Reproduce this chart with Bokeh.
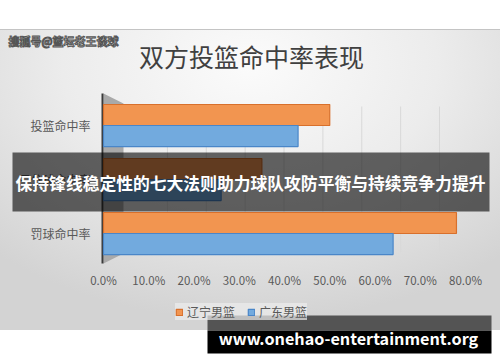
from bokeh.plotting import figure
from bokeh.models import (Range1d, Label, BoxAnnotation, PolyAnnotation, Legend, LegendItem)
from bokeh.core.properties import value
from bokeh.embed import file_html
from bokeh.resources import INLINE

# ---- data ----
categories = ["投篮命中率", "三分球命中率", "罚球命中率"]
liaoning = [0.50, 0.35, 0.78]
guangdong = [0.43, 0.26, 0.64]
series_names = ["辽宁男篮", "广东男篮"]
x_ticks = [0.0, 0.1, 0.2, 0.3, 0.4, 0.5, 0.6, 0.7, 0.8]
x_tick_labels = ["0.0%", "10.0%", "20.0%", "30.0%", "40.0%", "50.0%", "60.0%", "70.0%", "80.0%"]
title_text = "双方投篮命中率表现"
banner_text = "保持锋线稳定性的七大法则助力球队攻防平衡与持续竞争力提升"
watermark_text = "搜狐号@篮坛老王谈球"
site_text = "www.onehao-entertainment.org"

FONT = "Noto Sans CJK SC"
W, H = 500, 362

# layout of the plotting area inside the canvas (pixels)
X0_PX, X_SCALE = 103, 452.5      # x=0 position and px per unit
Y_TOP_PX, Y_TOP_VAL, Y_SCALE = 95, 3.556, 54.0

n = len(categories)
ypos = [n - i for i in range(n)]
bar_h = 0.389

def py_to_y(py):
    return Y_TOP_VAL - (py - Y_TOP_PX) / Y_SCALE

p = figure(width=W, height=H, output_backend="svg", toolbar_location=None,
           x_axis_location=None, y_axis_location=None,
           x_range=Range1d(-X0_PX / X_SCALE, (W - X0_PX) / X_SCALE),
           y_range=Range1d(py_to_y(H), py_to_y(0)))
p.min_border = 0
p.outline_line_color = None
p.border_fill_alpha = 0
p.background_fill_alpha = 0
p.grid.visible = False
p.styles = {
    "background": "linear-gradient(#c4c4c4,#c4c4c4) 0 29px / 100% 1px no-repeat, "
                  "radial-gradient(ellipse 75% 85% at 50% 12%, #fbfbfb 0%, #ececec 50%, #d3d3d3 100%) 0 30px / 100% 300px no-repeat, #ffffff"
}

# 3D side wall and axis line
p.add_layout(PolyAnnotation(xs=[103, 123, 123, 103], ys=[269, 259, 109, 99], xs_units="screen", ys_units="screen",
                            fill_color="#a9a9a9", fill_alpha=1, line_color=None, level="underlay"))
p.add_layout(BoxAnnotation(left=101, right=103, top=269, bottom=99, left_units="screen", right_units="screen",
                           top_units="screen", bottom_units="screen", fill_color="#3a3a3a", fill_alpha=1,
                           line_color=None, level="underlay"))

# faint back-wall gridlines (3D perspective)
grid_x = [(25 + t * 388.75) / X_SCALE for t in x_ticks[1:]]
p.segment(x0=grid_x, x1=grid_x, y0=py_to_y(106), y1=py_to_y(252), line_color="#d8d8d8", line_width=1)

r1 = p.hbar(y=[v + bar_h / 2 for v in ypos], right=liaoning, left=0, height=bar_h,
            fill_color="#f29550", line_color="#d8702c", line_width=1.2)
r2 = p.hbar(y=[v - bar_h / 2 for v in ypos], right=guangdong, left=0, height=bar_h,
            fill_color="#72aade", line_color="#4a86c8", line_width=1.2)

# x tick labels
p.text(x=x_ticks, y=py_to_y(279), text=x_tick_labels, text_align="center", text_baseline="middle",
       text_font=value(FONT), text_font_size="11.5px", text_color="#595959")
# category labels
p.text(x=0, y=ypos, text=categories, x_offset=-13, text_align="right", text_baseline="middle",
       text_font=value(FONT), text_font_size="12px", text_color="#595959")

legend = Legend(items=[LegendItem(label=series_names[0], renderers=[r1]),
                       LegendItem(label=series_names[1], renderers=[r2])],
                location=(175, 42), orientation="horizontal",
                label_text_font=FONT, label_text_font_size="12px", label_text_color="#595959",
                glyph_width=8, glyph_height=8, label_standoff=4, spacing=12, padding=6,
                border_line_color=None, background_fill_color="#ececec", background_fill_alpha=0.7)
p.add_layout(legend, "center")

p.add_layout(Label(x=251, y=307, x_units="screen", y_units="screen", text=title_text,
                   text_align="center", text_baseline="middle", text_font=FONT,
                   text_font_size="25px", text_color="#404040"))
p.add_layout(Label(x=8, y=322, x_units="screen", y_units="screen", text=watermark_text,
                   text_align="left", text_baseline="middle", text_font=FONT, text_font_style="bold",
                   text_font_size="11px", text_color="#ffffff", text_outline_color="#555555"))

p.add_layout(BoxAnnotation(left=12, right=489, top=210, bottom=151, left_units="screen", right_units="screen",
                           top_units="screen", bottom_units="screen", fill_color="#000000", fill_alpha=0.6,
                           line_color=None))
p.add_layout(Label(x=250, y=180, x_units="screen", y_units="screen", text=banner_text,
                   text_align="center", text_baseline="middle", text_font=FONT, text_font_style="bold",
                   text_font_size="16.8px", text_color="#ffffff"))

p.add_layout(BoxAnnotation(left=207, right=491, top=47, bottom=32, left_units="screen", right_units="screen",
                           top_units="screen", bottom_units="screen", fill_color="#000000", fill_alpha=0.6,
                           line_color=None))
p.add_layout(BoxAnnotation(left=207, right=491, top=32, bottom=9, left_units="screen", right_units="screen",
                           top_units="screen", bottom_units="screen", fill_color="#000000", fill_alpha=1,
                           line_color=None))
p.add_layout(Label(x=348, y=25, x_units="screen", y_units="screen", text=site_text,
                   text_align="center", text_baseline="middle", text_font=FONT, text_font_style="bold",
                   text_font_size="16.2px", text_color="#ffffff"))

open("out.html", "w").write(file_html(p, INLINE))
